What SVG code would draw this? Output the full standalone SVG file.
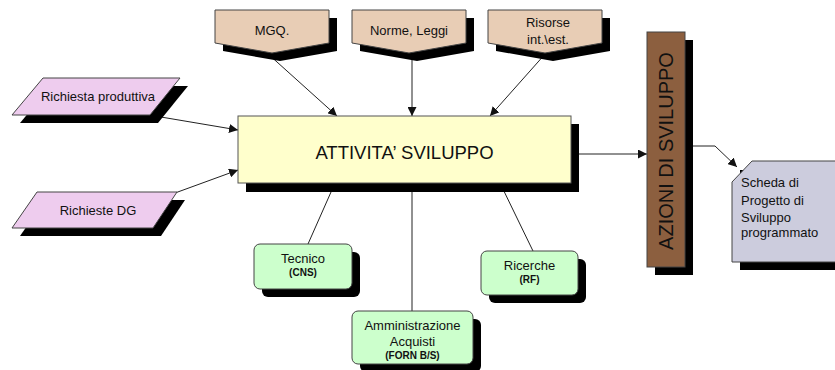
<svg xmlns="http://www.w3.org/2000/svg" width="835" height="370" viewBox="0 0 835 370">
<defs>
<style>
text{font-family:"Liberation Sans",Arial,sans-serif;fill:#111;}
.sh{fill:#000;}
.line{stroke:#222;stroke-width:1;fill:none;}
.tan{fill:#E8CDB5;stroke:#444;stroke-width:1;}
.pink{fill:#EECCEE;stroke:#444;stroke-width:1;}
.yel{fill:#FFFFCC;stroke:#555;stroke-width:1;}
.grn{fill:#CCFFCC;stroke:#444;stroke-width:1;}
.brn{fill:#8C5F3F;stroke:#444;stroke-width:1;}
.gry{fill:#CCCCDD;stroke:#444;stroke-width:1;}
.t13{font-size:13px;}
.b10{font-size:10px;font-weight:bold;}
</style>
<marker id="ah" viewBox="0 0 10 10" refX="10" refY="5" markerWidth="9" markerHeight="9" markerUnits="userSpaceOnUse" orient="auto">
<path d="M0,0 L10,5 L0,10 z" fill="#111"/>
</marker>
</defs>
<rect width="835" height="370" fill="#fff"/>

<g id="connectors">
<line class="line" x1="267" y1="53" x2="337" y2="116" marker-end="url(#ah)"/>
<line class="line" x1="412" y1="53" x2="412" y2="116" marker-end="url(#ah)"/>
<line class="line" x1="546" y1="53" x2="490" y2="116" marker-end="url(#ah)"/>
<line class="line" x1="155" y1="116" x2="238" y2="130" marker-end="url(#ah)"/>
<line class="line" x1="175" y1="193" x2="238" y2="170" marker-end="url(#ah)"/>
<line class="line" x1="571" y1="154" x2="647" y2="154" marker-end="url(#ah)"/>
<polyline class="line" points="685,146 715,146 737,167" marker-end="url(#ah)"/>
<line class="line" x1="335" y1="183" x2="308" y2="244"/>
<line class="line" x1="412" y1="183" x2="412" y2="311"/>
<line class="line" x1="500" y1="183" x2="533" y2="251"/>
</g>

<g id="mgq">
<polygon class="sh" points="223,18 337,18 337,51 280,61 223,51"/>
<polygon class="tan" points="215,10 329,10 329,43 272,53 215,43"/>
<text class="t13" x="272" y="35" text-anchor="middle">MGQ.</text>
</g>
<g id="norme">
<polygon class="sh" points="360,18 474,18 474,51 417,61 360,51"/>
<polygon class="tan" points="352,10 466,10 466,43 409,53 352,43"/>
<text class="t13" x="409" y="35" text-anchor="middle">Norme, Leggi</text>
</g>
<g id="risorse">
<polygon class="sh" points="496,18 610,18 610,51 553,61 496,51"/>
<polygon class="tan" points="488,10 602,10 602,43 545,53 488,43"/>
<text class="t13" x="548" y="27" text-anchor="middle">Risorse</text>
<text class="t13" x="548" y="44" text-anchor="middle">int.\est.</text>
</g>

<g id="richiesta">
<polygon class="sh" points="51,86 188,86 158,123 20,123"/>
<polygon class="pink" points="43,78 180,78 150,115 12,115"/>
<text class="t13" x="98" y="101" text-anchor="middle">Richiesta produttiva</text>
</g>
<g id="richiesteDG">
<polygon class="sh" points="45,200 185,200 161,236 20,236"/>
<polygon class="pink" points="37,192 177,192 153,228 12,228"/>
<text class="t13" x="98" y="215" text-anchor="middle">Richieste DG</text>
</g>

<g id="attivita">
<rect class="sh" x="246" y="124" width="333" height="68"/>
<rect class="yel" x="238" y="116" width="333" height="67"/>
<text x="404.5" y="159" font-size="18.5" text-anchor="middle">ATTIVITA’ SVILUPPO</text>
</g>

<g id="azioni">
<rect class="sh" x="655" y="40" width="38" height="235"/>
<rect class="brn" x="647" y="32" width="38" height="235"/>
<text x="0" y="0" font-size="20" text-anchor="middle" transform="translate(673,151) rotate(-90)">AZIONI DI SVILUPPO</text>
</g>

<g id="scheda">
<rect class="sh" x="740" y="170" width="100" height="100"/>
<polygon class="gry" points="752,161 840,161 840,262 732,262 732,182"/>
<text class="t13" x="741" y="187">Scheda di</text>
<text class="t13" x="741" y="205">Progetto di</text>
<text class="t13" x="741" y="222">Sviluppo</text>
<text class="t13" x="741" y="237">programmato</text>
</g>

<g id="tecnico">
<rect class="sh" x="262" y="252" width="98" height="45" rx="6"/>
<rect class="grn" x="254" y="244" width="98" height="45" rx="6"/>
<text class="t13" x="303" y="263" text-anchor="middle">Tecnico</text>
<text class="b10" x="303" y="276" text-anchor="middle">(CNS)</text>
</g>
<g id="ricerche">
<rect class="sh" x="489" y="259" width="97" height="44" rx="6"/>
<rect class="grn" x="481" y="251" width="97" height="44" rx="6"/>
<text class="t13" x="529.5" y="270" text-anchor="middle">Ricerche</text>
<text class="b10" x="529.5" y="283" text-anchor="middle">(RF)</text>
</g>
<g id="amministrazione">
<rect class="sh" x="360" y="319" width="121" height="53" rx="6"/>
<rect class="grn" x="352" y="311" width="121" height="53" rx="6"/>
<text class="t13" x="412.5" y="330" text-anchor="middle">Amministrazione</text>
<text class="t13" x="412.5" y="346" text-anchor="middle">Acquisti</text>
<text class="b10" x="412.5" y="359" text-anchor="middle">(FORN B/S)</text>
</g>
</svg>
